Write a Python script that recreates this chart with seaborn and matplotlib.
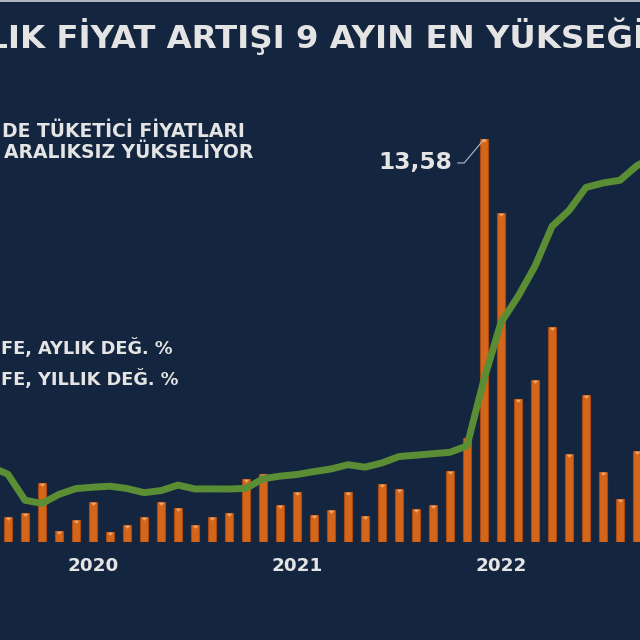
import numpy as np
import pandas as pd
import seaborn as sns
import matplotlib.pyplot as plt
from matplotlib.path import Path
from matplotlib.patches import Rectangle

# monthly CPI change (bars) and annual CPI change (line), Jul 2019 - Oct 2022
months = ['2019-07', '2019-08', '2019-09', '2019-10', '2019-11', '2019-12',
          '2020-01', '2020-02', '2020-03', '2020-04', '2020-05', '2020-06',
          '2020-07', '2020-08', '2020-09', '2020-10', '2020-11', '2020-12',
          '2021-01', '2021-02', '2021-03', '2021-04', '2021-05', '2021-06',
          '2021-07', '2021-08', '2021-09', '2021-10', '2021-11', '2021-12',
          '2022-01', '2022-02', '2022-03', '2022-04', '2022-05', '2022-06',
          '2022-07', '2022-08', '2022-09', '2022-10']
monthly = [1.36, 0.86, 0.99, 2.00, 0.38, 0.74,
           1.35, 0.35, 0.57, 0.85, 1.36, 1.13,
           0.58, 0.86, 0.97, 2.13, 2.30, 1.25,
           1.68, 0.91, 1.08, 1.68, 0.89, 1.94,
           1.80, 1.12, 1.25, 2.39, 3.51, 13.58,
           11.10, 4.81, 5.46, 7.25, 2.98, 4.95,
           2.37, 1.46, 3.08, 3.54]
annual = [16.65, 15.01, 9.26, 8.55, 10.56, 11.84,
          12.15, 12.37, 11.86, 10.94, 11.39, 12.62,
          11.76, 11.77, 11.75, 11.89, 14.03, 14.60,
          14.97, 15.61, 16.19, 17.14, 16.59, 17.53,
          18.95, 19.25, 19.58, 19.89, 21.31, 36.08,
          48.69, 54.44, 61.14, 69.97, 73.50, 78.62,
          79.60, 80.21, 83.45, 85.51]
year_ticks = ['2020-01', '2021-01', '2022-01']
year_labels = ['2020', '2021', '2022']
peak_month = '2021-12'

bg = '#14253f'
txt = '#e4e4e4'
orange = '#d4661b'
green = '#5a8d34'

df = pd.DataFrame({'ay': months, 'aylik': monthly, 'yillik': annual})
df['pos'] = np.arange(len(df))

plt.rcParams['font.family'] = ['DejaVu Sans']
fig = plt.figure(figsize=(6.4, 6.4), dpi=100, facecolor=bg)
ax = fig.add_axes([0, 98 / 640, 1, 542 / 640])
ax.set_facecolor(bg)

sns.barplot(data=df, x='ay', y='aylik', order=months, color=orange,
            width=0.47, edgecolor='#a84a12', linewidth=0.8, saturation=1, ax=ax)

# small light tip on top of each bar
tip = Path([(-1, 0), (1, 0), (0, -1.1), (-1, 0)])
sns.scatterplot(data=df, x='pos', y='aylik', marker=tip, s=22, color='#f3a86a',
                linewidth=0, zorder=3, legend=False, ax=ax)

ax2 = ax.twinx()
sns.lineplot(data=df, x='pos', y='yillik', color=green, linewidth=5,
             solid_joinstyle='round', solid_capstyle='round', ax=ax2)

# layout of the cropped view
ax.set_xlim(0.53, 0.53 + 640 / 17)
ax.set_ylim(0, 542 / 29.65)
ax2.set_ylim(0, 542 / 4.51)

for a in (ax, ax2):
    for s in a.spines.values():
        s.set_visible(False)
    a.set_yticks([])
    a.set_ylabel('')
    a.set_xlabel('')

ax.set_xticks([months.index(m) for m in year_ticks])
ax.set_xticklabels(year_labels)
ax.tick_params(axis='x', length=0, pad=10.5, labelsize=13.2, labelcolor=txt)
for lab in ax.get_xticklabels():
    lab.set_fontweight('bold')

# peak label
ipk = months.index(peak_month)
ax.annotate(f"{monthly[ipk]:.2f}".replace('.', ','),
            xy=(ipk, monthly[ipk]), xytext=(-23, -17), textcoords='offset points',
            ha='right', va='center', fontsize=16.8, fontweight='bold', color=txt,
            arrowprops=dict(arrowstyle='-', color='#b8bcc2', lw=0.8,
                            shrinkA=2, shrinkB=0, relpos=(1, 0.5),
                            connectionstyle='angle,angleA=0,angleB=50,rad=0'))

# title: the reference is cropped on both sides, so fit it so that
# "FİYAT" starts near x=57 px and "Ğ" ends near x=634 px
title = 'AYLIK FİYAT ARTIŞI 9 AYIN EN YÜKSEĞİ'
r = fig.canvas.get_renderer()
probe = fig.text(0, 0, 'FİYAT ARTIŞI 9 AYIN EN YÜKSEĞ', fontsize=23, fontweight='bold')
w_b = probe.get_window_extent(r).width
probe.set_text('AYLIK FİYAT ARTIŞI 9 AYIN EN YÜKSEĞ')
w_a = probe.get_window_extent(r).width
probe.remove()
fs = 23 * 577 / w_b
x0 = 634 - w_a * fs / 23
fig.text(x0 / 640, 1 - 48 / 640, title, ha='left', va='baseline',
         fontsize=fs, fontweight='bold', color=txt)

fig.text(245 / 640, 1 - 137 / 640, 'DE TÜKETİCİ FİYATLARI',
         ha='right', va='baseline', fontsize=13.5, fontweight='bold', color=txt)
fig.text(253 / 640, 1 - 158 / 640, 'ARALIKSIZ YÜKSELİYOR',
         ha='right', va='baseline', fontsize=13.5, fontweight='bold', color=txt)
fig.text(1 / 640, 1 - 354 / 640, 'FE, AYLIK DEĞ. %',
         ha='left', va='baseline', fontsize=12.8, fontweight='bold', color=txt)
fig.text(1 / 640, 1 - 385 / 640, 'FE, YILLIK DEĞ. %',
         ha='left', va='baseline', fontsize=12.8, fontweight='bold', color=txt)

# thin light border along the top
fig.add_artist(Rectangle((0, 1 - 2 / 640), 1, 2 / 640, transform=fig.transFigure,
                         color='#aeb6c0', lw=0))

fig.savefig('out.png', dpi=100, facecolor=bg)
